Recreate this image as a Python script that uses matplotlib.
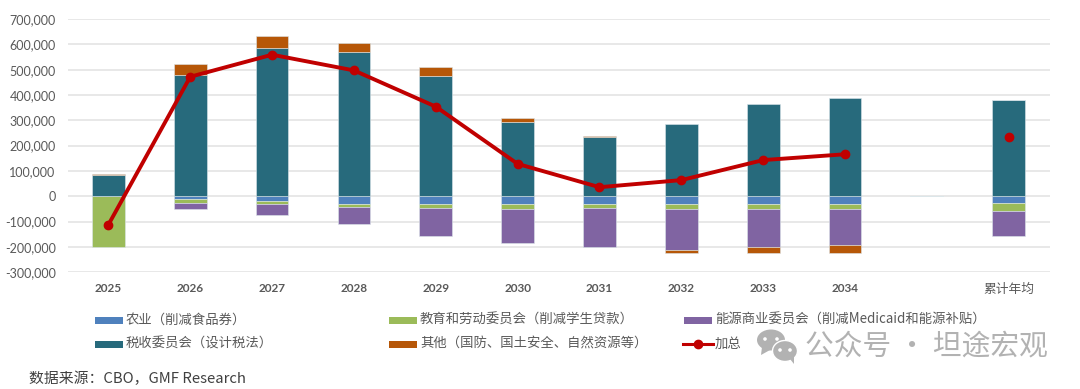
#!/usr/bin/env python3
import matplotlib

matplotlib.use("Agg")
import matplotlib.pyplot as plt
import numpy as np
from matplotlib.patches import Ellipse, Polygon, Rectangle

CJK = ["Noto Sans CJK SC", "DejaVu Sans"]

categories = ["2025", "2026", "2027", "2028", "2029", "2030", "2031", "2032", "2033", "2034", "", "累计年均"]
agriculture = [0, -12000, -18000, -30000, -30000, -29000, -29000, -30000, -30000, -30000, 0, -25000]
education = [-200000, -16000, -11000, -13000, -16000, -20000, -18000, -20000, -21000, -21000, 0, -34000]
energy = [0, -23000, -45000, -65000, -111000, -134000, -154000, -163000, -149000, -142000, 0, -99000]
ways_means = [85500, 479000, 585000, 570000, 475000, 293000, 234000, 287000, 364000, 389000, 0, 379000]
other = [2500, 43000, 49000, 34000, 34000, 15000, 4000, -12000, -25000, -32000, 0, 0]
total = [-112000, 472000, 559000, 497000, 354000, 128000, 36000, 64000, 143000, 166000, np.nan, 233000]

names = ["农业（削减食品券）", "教育和劳动委员会（削减学生贷款）", "能源商业委员会（削减Medicaid和能源补贴）",
         "税收委员会（设计税法）", "其他（国防、国土安全、自然资源等）", "加总"]
colors = ["#4f81bd", "#9bbb59", "#8064a2", "#276a7c", "#b65708"]
series = [agriculture, education, energy, ways_means, other]

W, H = 1080, 389
fig = plt.figure(figsize=(W / 100, H / 100), dpi=100)
ax = fig.add_axes([67.5 / W, 1 - 272.3 / H, (1049.6 - 67.5) / W, (272.3 - 19) / H])

x = np.arange(len(categories))
pos = np.zeros(len(x))
neg = np.zeros(len(x))
for vals, color in zip(series, colors):
    vals = np.asarray(vals, dtype=float)
    bottom = np.where(vals >= 0, pos, neg)
    ax.bar(x, vals, 0.4, bottom=bottom, color=color, edgecolor="#dce6ea", linewidth=0.4, zorder=2)
    pos += np.clip(vals, 0, None)
    neg += np.clip(vals, None, 0)
ax.plot(x, total, color="#c00000", lw=2.8, marker="o", ms=6, zorder=3)

ax.set_xlim(-0.5, len(x) - 0.5)
ax.set_ylim(-300000, 700000)
ax.set_yticks(np.arange(-300000, 700001, 100000))
ax.yaxis.set_major_formatter(lambda v, _: f"{v:,.0f}")
ax.set_xticks(x, categories)
ax.grid(axis="y", color="#e2e2e2", lw=1.1, zorder=0)
ax.set_axisbelow(True)
for s in ax.spines.values():
    s.set_visible(False)
ax.tick_params(length=0)
ax.tick_params(axis="y", pad=8.5, labelsize=9, labelcolor="#595959")
ax.tick_params(axis="x", pad=8, labelsize=8.5, labelcolor="#595959")
for label in ax.get_yticklabels():
    label.set_family("Lato")
for label in ax.get_xticklabels():
    label.set_family("Lato")
    label.set_fontweight("bold")
ax.get_xticklabels()[-1].set_family(CJK)
ax.get_xticklabels()[-1].set_fontweight("normal")
ax.get_xticklabels()[-1].set_fontsize(9.2)

# overlay in pixel coordinates for legend, source and watermark
top = fig.add_axes([0, 0, 1, 1], facecolor="none")
top.set_xlim(0, W)
top.set_ylim(H, 0)
top.axis("off")

slots = [(95, 320), (389, 320), (684, 320), (95, 344), (389, 344), (684, 344)]
for i, (name, (lx, ly)) in enumerate(zip(names, slots)):
    if i < 5:
        top.add_patch(Rectangle((lx, ly - 3.5), 28, 7, color=colors[i], lw=0))
    else:
        top.plot([lx - 1, lx + 29], [ly, ly], color="#c00000", lw=2.2)
        top.plot([lx + 14], [ly], color="#c00000", marker="o", ms=6)
    top.text(lx + 31, ly, name, family=CJK, fontsize=9.6, color="#595959", va="center", ha="left")

top.text(29, 379, "数据来源：CBO，GMF Research", family=CJK, fontsize=10.7, color="#404040", va="center", ha="left")

gray = "#b2b2b2"
top.add_patch(Ellipse((771, 340), 28, 21, color=gray, lw=0))
top.add_patch(Polygon([(762, 347), (761, 355), (770, 350)], color=gray, lw=0))
top.add_patch(Ellipse((785, 351), 25, 21, facecolor=gray, edgecolor="white", lw=1))
top.add_patch(Polygon([(790, 359), (794, 364), (794, 356)], color=gray, lw=0))
for dx, dy in [(765, 339), (777, 339), (780, 350), (790, 350)]:
    top.add_patch(Ellipse((dx, dy), 3.6, 3.6, color="white", lw=0))
top.text(805, 346, "公众号 · 坦途宏观", family=CJK, fontsize=20.7, color=gray, va="center", ha="left")

fig.savefig("out.png", dpi=100)
